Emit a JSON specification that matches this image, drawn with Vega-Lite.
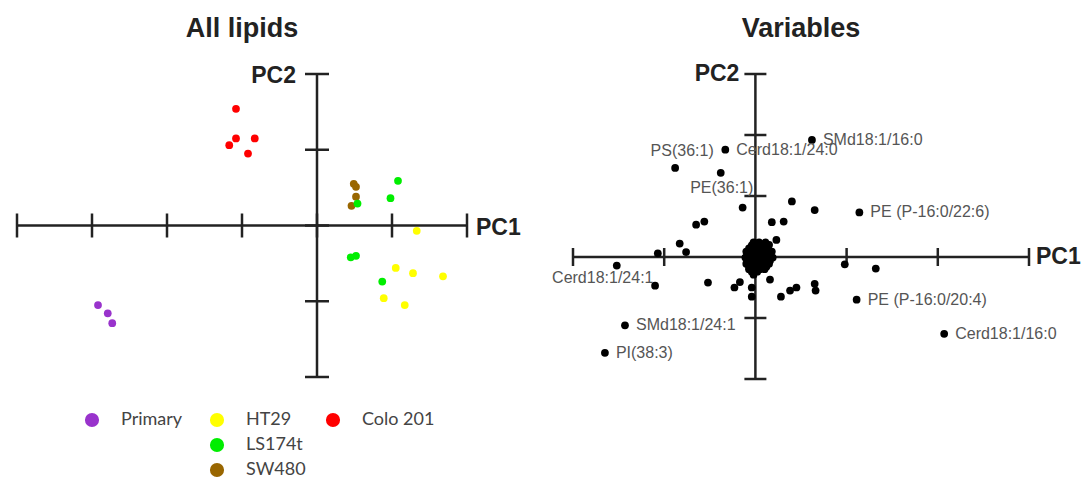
{
  "$schema": "https://vega.github.io/schema/vega-lite/v6.json",
  "background": "white",
  "padding": {"left": 15, "top": 15, "right": 0, "bottom": 0},
  "bounds": "flush",
  "spacing": 106,
  "config": {"view": {"stroke": null}, "font": "Liberation Sans"},
  "datasets": {
    "lipids": [
      {"group": "Primary", "pc1": -2.92, "pc2": -1.05},
      {"group": "Primary", "pc1": -2.79, "pc2": -1.16},
      {"group": "Primary", "pc1": -2.73, "pc2": -1.29},
      {"group": "Colo 201", "pc1": -1.08, "pc2": 1.54},
      {"group": "Colo 201", "pc1": -1.17, "pc2": 1.06},
      {"group": "Colo 201", "pc1": -1.08, "pc2": 1.15},
      {"group": "Colo 201", "pc1": -0.83, "pc2": 1.15},
      {"group": "Colo 201", "pc1": -0.92, "pc2": 0.95},
      {"group": "SW480", "pc1": 0.49, "pc2": 0.55},
      {"group": "SW480", "pc1": 0.52, "pc2": 0.51},
      {"group": "SW480", "pc1": 0.52, "pc2": 0.38},
      {"group": "SW480", "pc1": 0.46, "pc2": 0.26},
      {"group": "LS174t", "pc1": 0.54, "pc2": 0.29},
      {"group": "LS174t", "pc1": 1.08, "pc2": 0.59},
      {"group": "LS174t", "pc1": 0.98, "pc2": 0.36},
      {"group": "LS174t", "pc1": 0.45, "pc2": -0.42},
      {"group": "LS174t", "pc1": 0.52, "pc2": -0.4},
      {"group": "LS174t", "pc1": 0.87, "pc2": -0.74},
      {"group": "HT29", "pc1": 1.33, "pc2": -0.07},
      {"group": "HT29", "pc1": 1.05, "pc2": -0.56},
      {"group": "HT29", "pc1": 1.28, "pc2": -0.63},
      {"group": "HT29", "pc1": 1.68, "pc2": -0.67},
      {"group": "HT29", "pc1": 0.89, "pc2": -0.96},
      {"group": "HT29", "pc1": 1.17, "pc2": -1.05}
    ],
    "vars": [
      {"pc1": 0.62, "pc2": 1.92, "label": "SMd18:1/16:0"},
      {"pc1": -0.33, "pc2": 1.76, "label": "Cerd18:1/24:0"},
      {"pc1": -0.88, "pc2": 1.46, "label": "PS(36:1)"},
      {"pc1": -0.38, "pc2": 1.38, "label": "PE(36:1)"},
      {"pc1": 1.14, "pc2": 0.73, "label": "PE (P-16:0/22:6)"},
      {"pc1": 1.11, "pc2": -0.7, "label": "PE (P-16:0/20:4)"},
      {"pc1": 2.07, "pc2": -1.26, "label": "Cerd18:1/16:0"},
      {"pc1": -1.43, "pc2": -1.12, "label": "SMd18:1/24:1"},
      {"pc1": -1.65, "pc2": -1.57, "label": "PI(38:3)"},
      {"pc1": -1.52, "pc2": -0.14, "label": "Cerd18:1/24:1"},
      {"pc1": -0.14, "pc2": 0.81, "label": ""},
      {"pc1": -0.65, "pc2": 0.53, "label": ""},
      {"pc1": -0.56, "pc2": 0.58, "label": ""},
      {"pc1": -0.83, "pc2": 0.22, "label": ""},
      {"pc1": -0.76, "pc2": 0.08, "label": ""},
      {"pc1": -1.07, "pc2": 0.06, "label": ""},
      {"pc1": -1.1, "pc2": -0.47, "label": ""},
      {"pc1": -0.52, "pc2": -0.42, "label": ""},
      {"pc1": -0.23, "pc2": -0.5, "label": ""},
      {"pc1": -0.17, "pc2": -0.41, "label": ""},
      {"pc1": -0.04, "pc2": -0.5, "label": ""},
      {"pc1": -0.04, "pc2": -0.65, "label": ""},
      {"pc1": 0.4, "pc2": 0.91, "label": ""},
      {"pc1": 0.65, "pc2": 0.77, "label": ""},
      {"pc1": 0.18, "pc2": 0.57, "label": ""},
      {"pc1": 0.31, "pc2": 0.58, "label": ""},
      {"pc1": 0.23, "pc2": 0.28, "label": ""},
      {"pc1": 0.98, "pc2": -0.12, "label": ""},
      {"pc1": 1.32, "pc2": -0.19, "label": ""},
      {"pc1": 0.65, "pc2": -0.44, "label": ""},
      {"pc1": 0.66, "pc2": -0.55, "label": ""},
      {"pc1": 0.38, "pc2": -0.55, "label": ""},
      {"pc1": 0.45, "pc2": -0.5, "label": ""},
      {"pc1": 0.28, "pc2": -0.65, "label": ""},
      {"pc1": 0.16, "pc2": -0.37, "label": ""},
      {"pc1": -0.02, "pc2": 0.24, "label": ""},
      {"pc1": 0.04, "pc2": 0.24, "label": ""},
      {"pc1": 0.11, "pc2": 0.24, "label": ""},
      {"pc1": 0.15, "pc2": 0.2, "label": ""},
      {"pc1": -0.07, "pc2": 0.14, "label": ""},
      {"pc1": 0.0, "pc2": 0.14, "label": ""},
      {"pc1": 0.07, "pc2": 0.14, "label": ""},
      {"pc1": 0.13, "pc2": 0.14, "label": ""},
      {"pc1": -0.09, "pc2": 0.04, "label": ""},
      {"pc1": -0.02, "pc2": 0.04, "label": ""},
      {"pc1": 0.04, "pc2": 0.04, "label": ""},
      {"pc1": 0.11, "pc2": 0.04, "label": ""},
      {"pc1": 0.16, "pc2": 0.04, "label": ""},
      {"pc1": -0.09, "pc2": -0.06, "label": ""},
      {"pc1": -0.02, "pc2": -0.06, "label": ""},
      {"pc1": 0.04, "pc2": -0.06, "label": ""},
      {"pc1": 0.11, "pc2": -0.06, "label": ""},
      {"pc1": 0.16, "pc2": -0.06, "label": ""},
      {"pc1": -0.07, "pc2": -0.16, "label": ""},
      {"pc1": 0.0, "pc2": -0.16, "label": ""},
      {"pc1": 0.07, "pc2": -0.16, "label": ""},
      {"pc1": 0.12, "pc2": -0.16, "label": ""},
      {"pc1": -0.04, "pc2": -0.24, "label": ""},
      {"pc1": 0.02, "pc2": -0.24, "label": ""},
      {"pc1": -0.04, "pc2": 0.19, "label": ""},
      {"pc1": 0.02, "pc2": 0.19, "label": ""},
      {"pc1": 0.08, "pc2": 0.19, "label": ""},
      {"pc1": 0.14, "pc2": 0.19, "label": ""},
      {"pc1": -0.1, "pc2": 0.09, "label": ""},
      {"pc1": -0.05, "pc2": 0.09, "label": ""},
      {"pc1": 0.02, "pc2": 0.09, "label": ""},
      {"pc1": 0.08, "pc2": 0.09, "label": ""},
      {"pc1": 0.14, "pc2": 0.09, "label": ""},
      {"pc1": 0.18, "pc2": 0.09, "label": ""},
      {"pc1": -0.11, "pc2": -0.01, "label": ""},
      {"pc1": -0.05, "pc2": -0.01, "label": ""},
      {"pc1": 0.01, "pc2": -0.01, "label": ""},
      {"pc1": 0.08, "pc2": -0.01, "label": ""},
      {"pc1": 0.14, "pc2": -0.01, "label": ""},
      {"pc1": 0.19, "pc2": -0.01, "label": ""},
      {"pc1": -0.1, "pc2": -0.11, "label": ""},
      {"pc1": -0.04, "pc2": -0.11, "label": ""},
      {"pc1": 0.03, "pc2": -0.11, "label": ""},
      {"pc1": 0.09, "pc2": -0.11, "label": ""},
      {"pc1": 0.15, "pc2": -0.11, "label": ""},
      {"pc1": -0.07, "pc2": -0.2, "label": ""},
      {"pc1": -0.01, "pc2": -0.2, "label": ""},
      {"pc1": 0.05, "pc2": -0.2, "label": ""},
      {"pc1": 0.1, "pc2": -0.2, "label": ""},
      {"pc1": -0.02, "pc2": -0.29, "label": ""}
    ],
    "ticksLx": [{"v": -4}, {"v": -3}, {"v": -2}, {"v": -1}, {"v": 0}, {"v": 1}, {"v": 2}],
    "ticksLy": [{"v": -2}, {"v": -1}, {"v": 0}, {"v": 1}, {"v": 2}],
    "ticksRx": [{"v": -2}, {"v": -1}, {"v": 0}, {"v": 1}, {"v": 2}, {"v": 3}],
    "ticksRy": [{"v": -2}, {"v": -1}, {"v": 0}, {"v": 1}, {"v": 2}, {"v": 3}]
  },
  "hconcat": [
    {
      "width": 450,
      "height": 303,
      "title": {"text": "All lipids", "fontSize": 27, "fontWeight": "bold", "font": "Liberation Sans", "color": "#222222", "frame": "group", "anchor": "middle", "baseline": "alphabetic", "offset": 1},
      "layer": [
        {
          "data": {"values": [{}]},
          "mark": {"type": "rule", "strokeWidth": 2.5, "color": "#222222"},
          "encoding": {"y": {"datum": 0, "type": "quantitative", "scale": {"domain": [-2, 2], "nice": false, "zero": false}, "axis": null}}
        },
        {
          "data": {"values": [{}]},
          "mark": {"type": "rule", "strokeWidth": 2.5, "color": "#222222"},
          "encoding": {"x": {"datum": 0, "type": "quantitative", "scale": {"domain": [-4, 2], "nice": false, "zero": false}, "axis": null}}
        },
        {
          "data": {"name": "ticksLx"},
          "mark": {"type": "tick", "orient": "vertical", "size": 24, "thickness": 2.5, "color": "#222222", "opacity": 1},
          "encoding": {
            "x": {"field": "v", "type": "quantitative", "scale": {"domain": [-4, 2], "nice": false, "zero": false}, "axis": null},
            "y": {"datum": 0, "type": "quantitative", "scale": {"domain": [-2, 2], "nice": false, "zero": false}, "axis": null}
          }
        },
        {
          "data": {"name": "ticksLy"},
          "mark": {"type": "tick", "orient": "horizontal", "size": 24, "thickness": 2.5, "color": "#222222", "opacity": 1},
          "encoding": {
            "y": {"field": "v", "type": "quantitative", "scale": {"domain": [-2, 2], "nice": false, "zero": false}, "axis": null},
            "x": {"datum": 0, "type": "quantitative", "scale": {"domain": [-4, 2], "nice": false, "zero": false}, "axis": null}
          }
        },
        {
          "data": {"values": [{}]},
          "mark": {"type": "text", "text": "PC1", "align": "left", "baseline": "middle", "dx": 9, "dy": 2, "fontSize": 23, "fontWeight": "bold", "color": "#222222"},
          "encoding": {
            "x": {"datum": 2, "type": "quantitative", "scale": {"domain": [-4, 2], "nice": false, "zero": false}, "axis": null},
            "y": {"datum": 0, "type": "quantitative", "scale": {"domain": [-2, 2], "nice": false, "zero": false}, "axis": null}
          }
        },
        {
          "data": {"values": [{}]},
          "mark": {"type": "text", "text": "PC2", "align": "right", "baseline": "middle", "dx": -21, "dy": 2, "fontSize": 23, "fontWeight": "bold", "color": "#222222"},
          "encoding": {
            "x": {"datum": 0, "type": "quantitative", "scale": {"domain": [-4, 2], "nice": false, "zero": false}, "axis": null},
            "y": {"datum": 2, "type": "quantitative", "scale": {"domain": [-2, 2], "nice": false, "zero": false}, "axis": null}
          }
        },
        {
          "data": {"name": "lipids"},
          "transform": [{"filter": {"field": "group", "equal": "Primary"}}],
          "mark": {"type": "circle", "size": 60, "opacity": 1},
          "encoding": {
            "x": {"field": "pc1", "type": "quantitative", "scale": {"domain": [-4, 2], "nice": false, "zero": false}, "axis": null},
            "y": {"field": "pc2", "type": "quantitative", "scale": {"domain": [-2, 2], "nice": false, "zero": false}, "axis": null},
            "color": {"field": "group", "type": "nominal", "scale": {"domain": ["Primary"], "range": ["#9933CC"]},
              "legend": {"orient": "none", "legendX": 66, "legendY": 337, "title": null, "padding": 0, "symbolType": "circle", "symbolSize": 200, "symbolStrokeWidth": 0, "symbolOpacity": 1, "labelFont": "Lato", "labelFontSize": 18, "labelColor": "#444444", "labelOffset": 20, "rowPadding": 7}}
          }
        },
        {
          "data": {"name": "lipids"},
          "transform": [{"filter": {"field": "group", "oneOf": ["HT29", "LS174t", "SW480"]}}],
          "mark": {"type": "circle", "size": 60, "opacity": 1},
          "encoding": {
            "x": {"field": "pc1", "type": "quantitative", "scale": {"domain": [-4, 2], "nice": false, "zero": false}, "axis": null},
            "y": {"field": "pc2", "type": "quantitative", "scale": {"domain": [-2, 2], "nice": false, "zero": false}, "axis": null},
            "color": {"field": "group", "type": "nominal", "scale": {"domain": ["HT29", "LS174t", "SW480"], "range": ["#FFFF00", "#00EE00", "#996600"]},
              "legend": {"orient": "none", "legendX": 191, "legendY": 337, "title": null, "padding": 0, "symbolType": "circle", "symbolSize": 200, "symbolStrokeWidth": 0, "symbolOpacity": 1, "labelFont": "Lato", "labelFontSize": 18, "labelColor": "#444444", "labelOffset": 20, "rowPadding": 7}}
          }
        },
        {
          "data": {"name": "lipids"},
          "transform": [{"filter": {"field": "group", "equal": "Colo 201"}}],
          "mark": {"type": "circle", "size": 60, "opacity": 1},
          "encoding": {
            "x": {"field": "pc1", "type": "quantitative", "scale": {"domain": [-4, 2], "nice": false, "zero": false}, "axis": null},
            "y": {"field": "pc2", "type": "quantitative", "scale": {"domain": [-2, 2], "nice": false, "zero": false}, "axis": null},
            "color": {"field": "group", "type": "nominal", "scale": {"domain": ["Colo 201"], "range": ["#FF0000"]},
              "legend": {"orient": "none", "legendX": 307, "legendY": 337, "title": null, "padding": 0, "symbolType": "circle", "symbolSize": 200, "symbolStrokeWidth": 0, "symbolOpacity": 1, "labelFont": "Lato", "labelFontSize": 18, "labelColor": "#444444", "labelOffset": 20, "rowPadding": 7}}
          }
        }
      ],
      "resolve": {"scale": {"color": "independent"}}
    },
    {
      "width": 456,
      "height": 305,
      "title": {"text": "Variables", "fontSize": 27, "fontWeight": "bold", "font": "Liberation Sans", "color": "#222222", "frame": "group", "anchor": "middle", "baseline": "alphabetic", "offset": -1},
      "layer": [
        {
          "data": {"values": [{}]},
          "mark": {"type": "rule", "strokeWidth": 2.5, "color": "#222222"},
          "encoding": {"y": {"datum": 0, "type": "quantitative", "scale": {"domain": [-2, 3], "nice": false, "zero": false}, "axis": null}}
        },
        {
          "data": {"values": [{}]},
          "mark": {"type": "rule", "strokeWidth": 2.5, "color": "#222222"},
          "encoding": {"x": {"datum": 0, "type": "quantitative", "scale": {"domain": [-2, 3], "nice": false, "zero": false}, "axis": null}}
        },
        {
          "data": {"name": "ticksRx"},
          "mark": {"type": "tick", "orient": "vertical", "size": 18, "thickness": 2.5, "color": "#222222", "opacity": 1},
          "encoding": {
            "x": {"field": "v", "type": "quantitative", "scale": {"domain": [-2, 3], "nice": false, "zero": false}, "axis": null},
            "y": {"datum": 0, "type": "quantitative", "scale": {"domain": [-2, 3], "nice": false, "zero": false}, "axis": null}
          }
        },
        {
          "data": {"name": "ticksRy"},
          "mark": {"type": "tick", "orient": "horizontal", "size": 22, "thickness": 2.5, "color": "#222222", "opacity": 1},
          "encoding": {
            "y": {"field": "v", "type": "quantitative", "scale": {"domain": [-2, 3], "nice": false, "zero": false}, "axis": null},
            "x": {"datum": 0, "type": "quantitative", "scale": {"domain": [-2, 3], "nice": false, "zero": false}, "axis": null}
          }
        },
        {
          "data": {"values": [{}]},
          "mark": {"type": "text", "text": "PC1", "align": "left", "baseline": "middle", "dx": 7, "dy": 0, "fontSize": 23, "fontWeight": "bold", "color": "#222222"},
          "encoding": {
            "x": {"datum": 3, "type": "quantitative", "scale": {"domain": [-2, 3], "nice": false, "zero": false}, "axis": null},
            "y": {"datum": 0, "type": "quantitative", "scale": {"domain": [-2, 3], "nice": false, "zero": false}, "axis": null}
          }
        },
        {
          "data": {"values": [{}]},
          "mark": {"type": "text", "text": "PC2", "align": "right", "baseline": "middle", "dx": -16, "dy": 0, "fontSize": 23, "fontWeight": "bold", "color": "#222222"},
          "encoding": {
            "x": {"datum": 0, "type": "quantitative", "scale": {"domain": [-2, 3], "nice": false, "zero": false}, "axis": null},
            "y": {"datum": 3, "type": "quantitative", "scale": {"domain": [-2, 3], "nice": false, "zero": false}, "axis": null}
          }
        },
        {
          "data": {"name": "vars"},
          "mark": {"type": "circle", "size": 60, "opacity": 1, "color": "#000000"},
          "encoding": {
            "x": {"field": "pc1", "type": "quantitative", "scale": {"domain": [-2, 3], "nice": false, "zero": false}, "axis": null},
            "y": {"field": "pc2", "type": "quantitative", "scale": {"domain": [-2, 3], "nice": false, "zero": false}, "axis": null}
          }
        },
        {
          "data": {"name": "vars"},
          "transform": [{"filter": {"field": "label", "oneOf": ["SMd18:1/16:0", "Cerd18:1/24:0", "PE (P-16:0/22:6)", "PE (P-16:0/20:4)", "Cerd18:1/16:0", "SMd18:1/24:1", "PI(38:3)"]}}],
          "mark": {"type": "text", "align": "left", "baseline": "middle", "dx": 11, "fontSize": 16, "color": "#555555"},
          "encoding": {
            "x": {"field": "pc1", "type": "quantitative", "scale": {"domain": [-2, 3], "nice": false, "zero": false}, "axis": null},
            "y": {"field": "pc2", "type": "quantitative", "scale": {"domain": [-2, 3], "nice": false, "zero": false}, "axis": null},
            "text": {"field": "label"}
          }
        },
        {
          "data": {"name": "vars"},
          "transform": [{"filter": {"field": "label", "equal": "PS(36:1)"}}],
          "mark": {"type": "text", "align": "center", "baseline": "middle", "dx": 7, "dy": -17, "fontSize": 16, "color": "#555555"},
          "encoding": {
            "x": {"field": "pc1", "type": "quantitative", "scale": {"domain": [-2, 3], "nice": false, "zero": false}, "axis": null},
            "y": {"field": "pc2", "type": "quantitative", "scale": {"domain": [-2, 3], "nice": false, "zero": false}, "axis": null},
            "text": {"field": "label"}
          }
        },
        {
          "data": {"name": "vars"},
          "transform": [{"filter": {"field": "label", "equal": "PE(36:1)"}}],
          "mark": {"type": "text", "align": "center", "baseline": "middle", "dx": 1, "dy": 15, "fontSize": 16, "color": "#555555"},
          "encoding": {
            "x": {"field": "pc1", "type": "quantitative", "scale": {"domain": [-2, 3], "nice": false, "zero": false}, "axis": null},
            "y": {"field": "pc2", "type": "quantitative", "scale": {"domain": [-2, 3], "nice": false, "zero": false}, "axis": null},
            "text": {"field": "label"}
          }
        },
        {
          "data": {"name": "vars"},
          "transform": [{"filter": {"field": "label", "equal": "Cerd18:1/24:1"}}],
          "mark": {"type": "text", "align": "center", "baseline": "middle", "dx": -14, "dy": 12, "fontSize": 16, "color": "#555555"},
          "encoding": {
            "x": {"field": "pc1", "type": "quantitative", "scale": {"domain": [-2, 3], "nice": false, "zero": false}, "axis": null},
            "y": {"field": "pc2", "type": "quantitative", "scale": {"domain": [-2, 3], "nice": false, "zero": false}, "axis": null},
            "text": {"field": "label"}
          }
        }
      ]
    }
  ]
}
